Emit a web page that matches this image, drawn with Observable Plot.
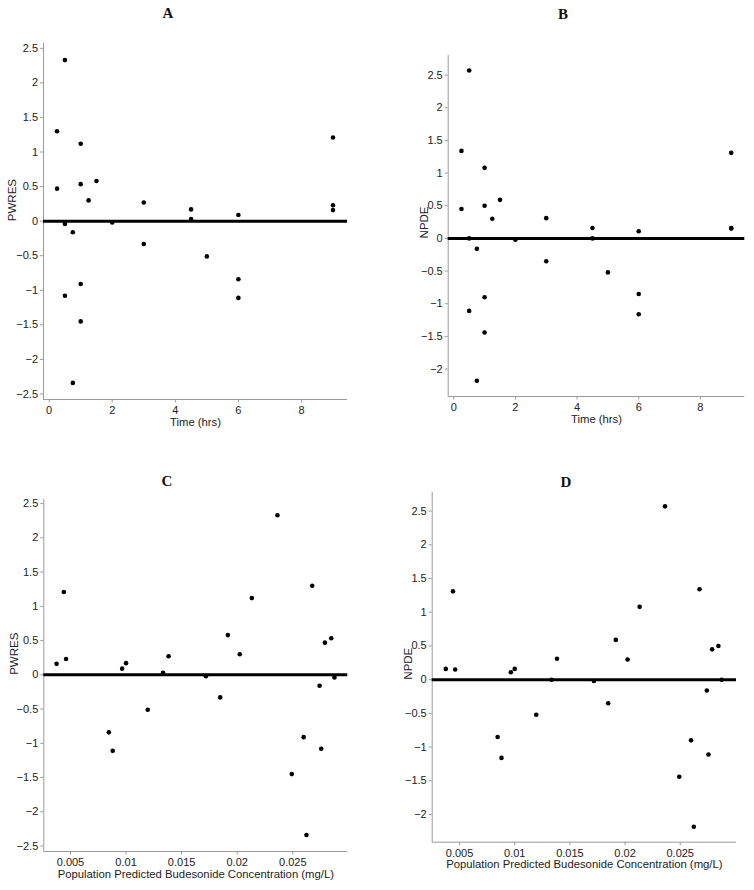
<!DOCTYPE html>
<html><head><meta charset="utf-8">
<script src="https://cdn.jsdelivr.net/npm/d3@7"></script>
<script src="https://cdn.jsdelivr.net/npm/@observablehq/plot@0.6"></script>
<style>
body{margin:0;background:#fff;}
#wrap{position:relative;width:754px;height:890px;font-family:"Liberation Sans",Arial,sans-serif;}
.panel{position:absolute;}
.title{position:absolute;font-family:"Liberation Serif","Times New Roman",serif;font-weight:bold;font-size:15px;color:#111;transform:translate(-50%,-50%);line-height:1;}
</style></head><body><div id="wrap"></div>
<script>
// Observations (same order in every array)
const timeHrs = [0.5, 0.25, 1, 9, 0.25, 1, 1.5, 1.25, 3, 4.5, 4.5, 6, 9, 9, 0.5, 2, 0.75, 3, 5, 1, 6, 6, 0.5, 1, 0.75];
const concPred = [0.02362, 0.02675, 0.02132, 0.0044, 0.02789, 0.02846, 0.01916, 0.02023, 0.01383, 0.0100, 0.01333, 0.00965, 0.0046, 0.00375, 0.02875, 0.01718, 0.02741, 0.01847, 0.01195, 0.02598, 0.00845, 0.0088, 0.02756, 0.02491, 0.02623];
const pwres = [2.33, 1.30, 1.12, 1.21, 0.47, 0.535, 0.58, 0.30, 0.27, 0.17, 0.03, 0.09, 0.23, 0.16, -0.04, -0.02, -0.16, -0.33, -0.51, -0.91, -0.84, -1.11, -1.08, -1.45, -2.34];
const npde = [2.57, 1.34, 1.08, 1.31, 0.45, 0.50, 0.59, 0.30, 0.31, 0.16, 0.0, 0.11, 0.15, 0.16, 0.0, -0.02, -0.16, -0.35, -0.52, -0.90, -0.85, -1.16, -1.11, -1.44, -2.18];

const timeTicks = [0, 2, 4, 6, 8];
const concTicks = [0.005, 0.01, 0.015, 0.02, 0.025];
const pwresTicks = [-2.5, -2, -1.5, -1, -0.5, 0, 0.5, 1, 1.5, 2, 2.5];
const npdeTicks = [-2, -1.5, -1, -0.5, 0, 0.5, 1, 1.5, 2, 2.5];
const panelTitles = ["A", "B", "C", "D"];
const timeLabel = "Time (hrs)";
const concLabel = "Population Predicted Budesonide Concentration (mg/L)";

const rows = timeHrs.map((t, i) => ({time: t, conc: concPred[i], pwres: pwres[i], npde: npde[i]}));

const panels = [
  {title: panelTitles[0], tx: 168, ty: 13, left: 0, top: 0, ml: 43, mr: 30, mt: 43, mb: 46,
   xKey: "time", yKey: "pwres", xDomain: [-0.18, 9.46], yDomain: [-2.58, 2.57],
   xTicks: timeTicks, yTicks: pwresTicks, xLabel: timeLabel, yLabel: "PWRES", yOff: 31},
  {title: panelTitles[1], tx: 563, ty: 14, left: 377, top: 0, ml: 70.7, mr: 9.7, mt: 55, mb: 49,
   xKey: "time", yKey: "npde", xDomain: [-0.18, 9.44], yDomain: [-2.42, 2.80],
   xTicks: timeTicks, yTicks: npdeTicks, xLabel: timeLabel, yLabel: "NPDE", yOff: 24},
  {title: panelTitles[2], tx: 167, ty: 481, left: 0, top: 445, ml: 43.3, mr: 29.7, mt: 54, mb: 39,
   xKey: "conc", yKey: "pwres", xDomain: [0.0026, 0.02995], yDomain: [-2.58, 2.56],
   xTicks: concTicks, yTicks: pwresTicks, xLabel: concLabel, yLabel: "PWRES", yOff: 29},
  {title: panelTitles[3], tx: 566, ty: 482, left: 377, top: 445, ml: 54.7, mr: 18, mt: 46.7, mb: 48.3,
   xKey: "conc", yKey: "npde", xDomain: [0.00252, 0.0301], yDomain: [-2.41, 2.78],
   xTicks: concTicks, yTicks: npdeTicks, xLabel: concLabel, yLabel: "NPDE", yOff: 24}
];

const wrap = document.getElementById("wrap");
const axisGray = "#9a9a9a";
const textCol = "#222";
const fmt = d3.format("");

for (const p of panels) {
  const chart = Plot.plot({
    width: 377, height: 445,
    marginLeft: p.ml, marginRight: p.mr, marginTop: p.mt, marginBottom: p.mb,
    style: {fontFamily: '"Liberation Sans", Arial, sans-serif', fontSize: "11px", color: textCol, background: "transparent", overflow: "visible"},
    x: {domain: p.xDomain, label: null},
    y: {domain: p.yDomain, label: null},
    marks: [
      Plot.ruleX([p.xDomain[0]], {stroke: axisGray, strokeWidth: 1}),
      Plot.ruleY([p.yDomain[0]], {stroke: axisGray, strokeWidth: 1}),
      Plot.axisX({ticks: p.xTicks, tickFormat: fmt, tickSize: 3.5, tickPadding: 3, stroke: axisGray, fill: textCol, label: null}),
      Plot.axisY({ticks: p.yTicks, tickFormat: fmt, tickSize: 3, tickPadding: 2.5, stroke: axisGray, fill: textCol, label: null}),
      Plot.ruleY([0], {stroke: "black", strokeWidth: 3}),
      Plot.dot(rows, {x: p.xKey, y: p.yKey, r: 2.3, fill: "black", stroke: null}),
      Plot.text([0], {y: d => d, text: () => p.yLabel, frameAnchor: "left", rotate: -90, dx: -p.yOff, fill: textCol, fontSize: 11.5}),
      Plot.text([p.xLabel], {frameAnchor: "bottom", dy: 26, fill: textCol, fontSize: 11.3})
    ]
  });
  const div = document.createElement("div");
  div.className = "panel";
  div.style.left = p.left + "px";
  div.style.top = p.top + "px";
  div.appendChild(chart);
  wrap.appendChild(div);
  const t = document.createElement("div");
  t.className = "title";
  t.style.left = p.tx + "px";
  t.style.top = p.ty + "px";
  t.textContent = p.title;
  wrap.appendChild(t);
}
</script>
</body></html>
